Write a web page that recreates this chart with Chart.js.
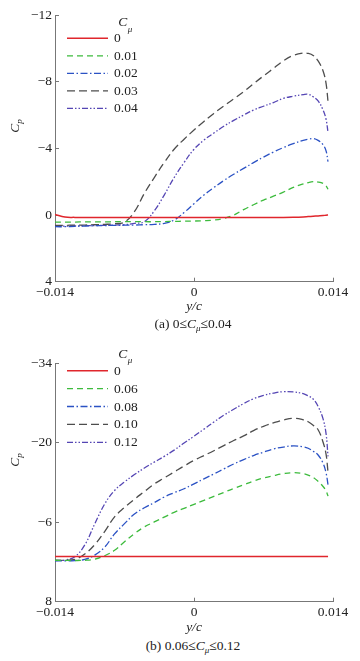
<!DOCTYPE html>
<html lang="en">
<head>
  <meta charset="UTF-8" />
  <title>Cp distribution</title>
  <script src="https://cdn.jsdelivr.net/npm/chart.js"></script>
  <style>
    body { margin: 0; width: 360px; height: 661px; position: relative; background: #fff; overflow: hidden;
           font-family: "Liberation Serif", "Times New Roman", serif; color: #222; }
    canvas { position: absolute; left: 0; }
    .ylab { position: absolute; left: 15px; font-size: 13.5px; line-height: 15px; white-space: nowrap;
            transform: translate(-50%, -50%) rotate(-90deg); }
    .cap { position: absolute; left: 93px; width: 200px; text-align: center; font-size: 13.5px; line-height: 15px; white-space: nowrap; }
    .s { font-size: 9px; font-style: italic; position: relative; top: 3px; }
  </style>
</head>
<body>
  <canvas id="chartA" width="360" height="315" style="top:0"></canvas>
  <canvas id="chartB" width="360" height="306" style="top:330px"></canvas>

  <div class="ylab" style="top:126px"><i>C</i><span class="s">p</span></div>
  <div class="ylab" style="top:460px"><i>C</i><span class="s">p</span></div>
  <div class="cap" style="top:315.5px">(a) 0≤<i>C</i><span class="s">μ</span>≤0.04</div>
  <div class="cap" style="top:637.5px">(b) 0.06≤<i>C</i><span class="s">μ</span>≤0.12</div>

  <script>
    // y/c stations shared by every curve
    const yc = [-0.014, -0.013, -0.012, -0.011, -0.010, -0.009, -0.008, -0.007, -0.006, -0.005,
                -0.004, -0.003, -0.002, -0.001, 0, 0.001, 0.002, 0.003, 0.004, 0.005,
                0.006, 0.007, 0.008, 0.009, 0.010, 0.011, 0.0115, 0.012, 0.0125, 0.013, 0.0133, 0.0135];

    // (a) 0 <= Cmu <= 0.04
    const cmuA = ['0', '0.01', '0.02', '0.03', '0.04'];
    const cpA0 = [-0.03, 0.12, 0.14, 0.14, 0.14, 0.14, 0.14, 0.14, 0.14, 0.14,
                  0.14, 0.14, 0.14, 0.14, 0.14, 0.14, 0.14, 0.14, 0.14, 0.14,
                  0.14, 0.14, 0.14, 0.14, 0.13, 0.11, 0.09, 0.07, 0.05, 0.03, 0.01, 0.0];
    const cpA1 = [0.42, 0.42, 0.42, 0.41, 0.41, 0.41, 0.4, 0.4, 0.4, 0.4,
                  0.4, 0.39, 0.38, 0.37, 0.36, 0.34, 0.3, 0.2, 0.0, -0.33,
                  -0.62, -0.9, -1.13, -1.38, -1.66, -1.87, -1.95, -2.0, -1.98, -1.9, -1.75, -1.55];
    const cpA2 = [0.7, 0.7, 0.68, 0.66, 0.64, 0.63, 0.62, 0.61, 0.6, 0.58,
                  0.56, 0.5, 0.3, -0.15, -0.68, -1.2, -1.65, -2.07, -2.45, -2.8,
                  -3.15, -3.48, -3.78, -4.05, -4.28, -4.48, -4.55, -4.59, -4.48, -4.22, -3.85, -3.2];
    const cpA3 = [0.62, 0.62, 0.6, 0.6, 0.58, 0.56, 0.52, 0.42, -0.2, -1.3,
                  -2.25, -3.15, -3.95, -4.55, -5.1, -5.62, -6.1, -6.55, -6.97, -7.4,
                  -7.88, -8.35, -8.8, -9.25, -9.58, -9.72, -9.7, -9.58, -9.25, -8.65, -7.9, -6.8];
    const cpA4 = [0.66, 0.66, 0.65, 0.64, 0.63, 0.62, 0.6, 0.58, 0.5, 0.4,
                  -0.25, -1.2, -2.25, -3.15, -3.95, -4.5, -4.92, -5.33, -5.68, -6.0,
                  -6.3, -6.53, -6.75, -7.0, -7.13, -7.23, -7.25, -7.1, -6.85, -6.3, -5.75, -4.95];

    // (b) 0.06 <= Cmu <= 0.12
    const cmuB = ['0', '0.06', '0.08', '0.10', '0.12'];
    const cpB0 = [0.05, 0.05, 0.05, 0.05, 0.05, 0.05, 0.05, 0.05, 0.05, 0.05,
                  0.05, 0.05, 0.05, 0.05, 0.05, 0.05, 0.05, 0.05, 0.05, 0.05,
                  0.05, 0.05, 0.05, 0.05, 0.05, 0.05, 0.05, 0.05, 0.05, 0.05, 0.05, 0.05];
    const cpB1 = [0.7, 0.72, 0.74, 0.7, 0.5, -0.1, -1.05, -2.55, -3.98, -5.17,
                  -6.05, -6.9, -7.75, -8.45, -9.15, -9.85, -10.55, -11.25, -11.95, -12.6,
                  -13.25, -13.8, -14.2, -14.55, -14.73, -14.55, -14.3, -13.9, -13.2, -12.3, -11.5, -10.6];
    const cpB2 = [0.8, 0.8, 0.75, 0.55, -0.2, -1.6, -3.95, -5.75, -7.45, -8.55,
                  -9.45, -10.45, -11.2, -11.9, -12.76, -13.64, -14.51, -15.38, -16.27, -17.04,
                  -17.75, -18.35, -18.9, -19.25, -19.45, -19.3, -19.03, -18.5, -17.85, -16.4, -14.7, -12.6];
    const cpB3 = [0.7, 0.7, 0.55, -0.4, -2.05, -4.35, -6.95, -8.6, -10.05, -11.4,
                  -12.75, -13.8, -14.85, -15.9, -16.9, -17.75, -18.6, -19.5, -20.4, -21.2,
                  -22.15, -22.9, -23.5, -24.0, -24.31, -24.05, -23.7, -23.1, -22.3, -20.1, -18.0, -14.8];
    const cpB4 = [0.75, 0.65, 0.07, -2.0, -5.7, -9.2, -11.6, -13.1, -14.4, -15.55,
                  -16.6, -17.6, -18.7, -19.95, -21.15, -22.4, -23.65, -24.85, -25.9, -26.9,
                  -27.75, -28.35, -28.75, -29.0, -28.95, -28.65, -28.25, -27.7, -26.4, -24.2, -21.6, -17.6];

    // ticks
    const xTicks = [-0.014, 0, 0.014];
    const yTicksA = [-12, -8, -4, 0, 4];
    const yTicksB = [-34, -20, -6, 8];

    const styles = [
      { color: '#e0262c', dash: [], width: 1.5 },
      { color: '#3dbb3d', dash: [6, 4], width: 1.3 },
      { color: '#2b52c4', dash: [7, 2.5, 1.5, 2.5], width: 1.3 },
      { color: '#4d4d4d', dash: [8, 4], width: 1.3 },
      { color: '#5546b4', dash: [6, 2, 1.5, 2, 1.5, 2], width: 1.3 }
    ];

    Chart.defaults.font.family = '"Liberation Serif", "Times New Roman", serif';
    Chart.defaults.font.size = 13.5;
    Chart.defaults.color = '#222';

    const fmt = v => (v < 0 ? '\u2212' : '') + Math.abs(v);

    // legend drawn inside the plot, with the C_mu header
    const insideLegend = {
      id: 'insideLegend',
      afterDraw(chart, args, o) {
        const ctx = chart.ctx;
        ctx.save();
        ctx.fillStyle = '#222';
        ctx.textBaseline = 'middle';
        ctx.font = 'italic 13.5px "Liberation Serif"';
        ctx.fillText('C', o.hx, o.hy);
        ctx.font = 'italic 9px "Liberation Serif"';
        ctx.fillText('\u03bc', o.hx + 9.5, o.hy + 7);
        chart.data.datasets.forEach((ds, i) => {
          const y = o.y + i * o.gap;
          ctx.strokeStyle = ds.borderColor;
          ctx.lineWidth = ds.borderWidth;
          ctx.setLineDash(ds.borderDash);
          ctx.beginPath();
          ctx.moveTo(o.x, y);
          ctx.lineTo(o.x + 41, y);
          ctx.stroke();
          ctx.setLineDash([]);
          ctx.font = '13.5px "Liberation Serif"';
          ctx.fillText(ds.label, o.x + 47, y + 0.5);
        });
        ctx.restore();
      }
    };

    function drawPanel(id, cmu, series, yTicks, padTop, xAxisH, legendAt) {
      const datasets = series.map((cp, i) => ({
        label: cmu[i],
        data: yc.map((x, j) => ({ x: x, y: cp[j] })),
        borderColor: styles[i].color,
        borderDash: styles[i].dash,
        borderWidth: styles[i].width,
        pointRadius: 0,
        tension: 0.4,
        fill: false
      }));
      const axisGrid = { drawOnChartArea: false, drawTicks: true, tickLength: -4, color: '#777' };
      return new Chart(document.getElementById(id), {
        type: 'line',
        data: { datasets },
        plugins: [insideLegend],
        options: {
          responsive: false,
          animation: false,
          layout: { padding: { top: padTop, right: 27, left: 0, bottom: 0 } },
          plugins: {
            legend: { display: false },
            tooltip: { enabled: false },
            insideLegend: legendAt
          },
          scales: {
            x: {
              type: 'linear', min: xTicks[0], max: xTicks[xTicks.length - 1],
              afterBuildTicks: s => { s.ticks = xTicks.map(v => ({ value: v })); },
              afterFit: s => { s.height = xAxisH; },
              ticks: { padding: 7, maxRotation: 0, callback: fmt },
              grid: axisGrid,
              border: { color: '#777', width: 1 },
              title: { display: true, text: 'y/c', font: { style: 'italic' }, padding: 0 }
            },
            y: {
              type: 'linear', reverse: true, min: yTicks[0], max: yTicks[yTicks.length - 1],
              afterBuildTicks: s => { s.ticks = yTicks.map(v => ({ value: v })); },
              afterFit: s => { s.width = 55; },
              ticks: { padding: 7, callback: fmt },
              grid: axisGrid,
              border: { color: '#777', width: 1 }
            }
          }
        }
      });
    }

    drawPanel('chartA', cmuA, [cpA0, cpA1, cpA2, cpA3, cpA4], yTicksA, 14, 33.3,
              { x: 67, y: 38.3, gap: 17.5, hx: 118.3, hy: 22.5 });
    drawPanel('chartB', cmuB, [cpB0, cpB1, cpB2, cpB3, cpB4], yTicksB, 33.3, 34.3,
              { x: 67, y: 40.7, gap: 17.9, hx: 118.3, hy: 24 });
  </script>
</body>
</html>
